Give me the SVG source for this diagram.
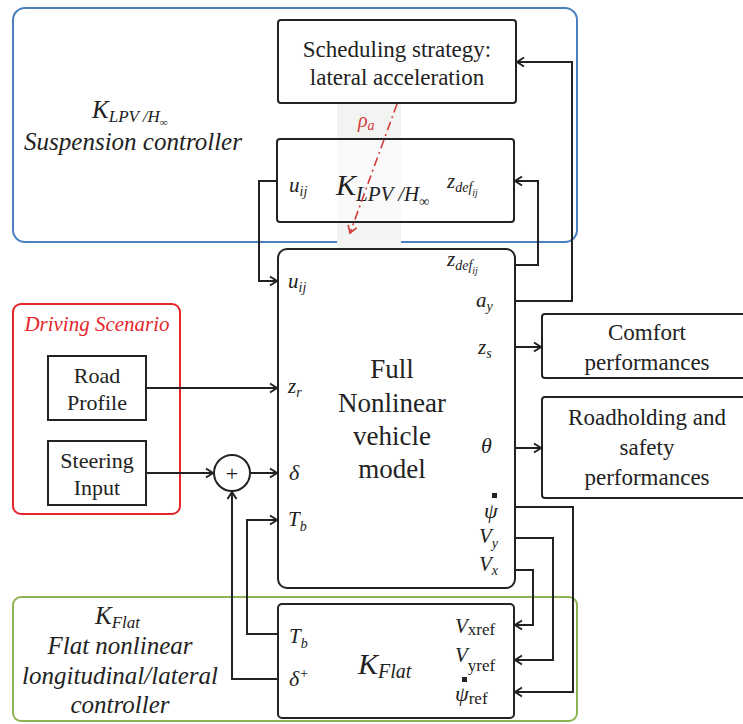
<svg xmlns="http://www.w3.org/2000/svg" width="743" height="724" viewBox="0 0 743 724">
<defs>
<marker id="arr" markerWidth="12" markerHeight="12" refX="10" refY="6" orient="auto" markerUnits="userSpaceOnUse">
<path d="M3,1.5 L10,6 L3,10.5" fill="none" stroke="#222" stroke-width="2"/>
</marker>
<marker id="arrR" markerWidth="12" markerHeight="12" refX="10" refY="6" orient="auto" markerUnits="userSpaceOnUse">
<path d="M3,1.5 L10,6 L3,10.5" fill="none" stroke="#d43a3a" stroke-width="1.6"/>
</marker>
</defs>
<style>
.box{fill:#fff;stroke:#222;stroke-width:2}
.wire{fill:none;stroke:#222;stroke-width:2}
.t{font-family:'Liberation Serif','Times New Roman',Times,Tinos,'Noto Serif','DejaVu Serif',FreeSerif,serif;fill:#222;text-anchor:middle}
.m{font-family:'Liberation Serif','Times New Roman',Times,Tinos,'Noto Serif','DejaVu Serif',FreeSerif,serif;font-style:italic;fill:#222}
.grp{fill:none;stroke-width:2}
</style>
<rect width="743" height="724" fill="#fff"/>

<g id="suspension-group">
<rect x="13" y="8" width="564" height="234" rx="12" class="grp" stroke="#4a7fc1"/>
<text class="m" x="92" y="118" font-size="25">K<tspan font-size="17" dy="4">LPV /H</tspan><tspan font-size="11" dy="4">∞</tspan></text>
<text class="m" x="133" y="150" font-size="25" text-anchor="middle">Suspension controller</text>
</g>

<g id="flat-group">
<rect x="13" y="597" width="564" height="124" rx="8" class="grp" stroke="#8db352"/>
<text class="m" x="95" y="624" font-size="25">K<tspan font-size="17" dy="4">Flat</tspan></text>
<text class="m" x="120" y="654" font-size="25" text-anchor="middle">Flat nonlinear</text>
<text class="m" x="120" y="684" font-size="25" text-anchor="middle">longitudinal/lateral</text>
<text class="m" x="120" y="713" font-size="25" text-anchor="middle">controller</text>
</g>

<g id="scenario-group">
<rect x="13" y="304" width="167" height="210" rx="8" class="grp" stroke="#e8242b"/>
<text class="m" x="97" y="331" font-size="21" text-anchor="middle" style="fill:#e8242b">Driving Scenario</text>
</g>

<rect x="337" y="103" width="64" height="148" fill="#f2f4f2"/>

<g id="scheduling">
<rect x="278" y="20" width="238" height="83" rx="3" class="box"/>
<text class="t" x="397" y="57" font-size="23">Scheduling strategy:</text>
<text class="t" x="397" y="85" font-size="23">lateral acceleration</text>
</g>

<g id="klpv">
<rect x="277" y="139" width="237" height="83" rx="3" class="box" fill-opacity="0.5"/>
<text class="m" x="289" y="192" font-size="21">u<tspan font-size="14" dy="4">ij</tspan></text>
<text class="m" x="336" y="195" font-size="30">K<tspan font-size="21" dy="6">LPV /H</tspan><tspan font-size="14" dy="5">∞</tspan></text>
<text class="m" x="447" y="188" font-size="21">z<tspan font-size="14" dy="4">def</tspan><tspan font-size="10" dy="4">ij</tspan></text>
</g>

<g id="vehicle-model">
<rect x="278" y="249" width="237" height="339" rx="9" class="box"/>
<text class="t" x="392" y="378" font-size="27">Full</text>
<text class="t" x="392" y="412" font-size="27">Nonlinear</text>
<text class="t" x="392" y="445" font-size="27">vehicle</text>
<text class="t" x="392" y="478" font-size="27">model</text>
<text class="m" x="288" y="288" font-size="21">u<tspan font-size="14" dy="4">ij</tspan></text>
<text class="m" x="288" y="393" font-size="21">z<tspan font-size="14" dy="4">r</tspan></text>
<text class="m" x="289" y="480" font-size="22">δ</text>
<text class="m" x="288" y="526" font-size="21">T<tspan font-size="14" dy="5">b</tspan></text>
<text class="m" x="447" y="266" font-size="21">z<tspan font-size="14" dy="4">def</tspan><tspan font-size="10" dy="4">ij</tspan></text>
<text class="m" x="476" y="307" font-size="21">a<tspan font-size="14" dy="4">y</tspan></text>
<text class="m" x="478" y="354" font-size="21">z<tspan font-size="14" dy="4">s</tspan></text>
<text class="m" x="481" y="453" font-size="22">θ</text>
<rect x="492" y="493" width="5" height="5" fill="#222"/>
<text class="m" x="484" y="518" font-size="22">ψ</text>
<text class="m" x="479" y="543" font-size="21">V<tspan font-size="14" dy="5">y</tspan></text>
<text class="m" x="479" y="571" font-size="21">V<tspan font-size="14" dy="4">x</tspan></text>
</g>

<g id="comfort">
<rect x="542" y="314" width="215" height="64" rx="3" class="box"/>
<text class="t" x="647" y="340" font-size="23">Comfort</text>
<text class="t" x="647" y="370" font-size="23">performances</text>
</g>

<g id="roadholding">
<rect x="542" y="397" width="215" height="101" rx="3" class="box"/>
<text class="t" x="647" y="425" font-size="23">Roadholding and</text>
<text class="t" x="647" y="455" font-size="23">safety</text>
<text class="t" x="647" y="485" font-size="23">performances</text>
</g>

<g id="road-profile">
<rect x="48" y="356" width="98" height="64" class="box"/>
<text class="t" x="97" y="383" font-size="22">Road</text>
<text class="t" x="97" y="410" font-size="22">Profile</text>
</g>

<g id="steering-input">
<rect x="48" y="441" width="98" height="64" class="box"/>
<text class="t" x="97" y="468" font-size="22">Steering</text>
<text class="t" x="97" y="495" font-size="22">Input</text>
</g>

<g id="sum">
<circle cx="232" cy="473" r="18" class="box"/>
<text class="t" x="232" y="481" font-size="22">+</text>
</g>

<g id="kflat">
<rect x="278" y="604" width="236" height="114" rx="4" class="box"/>
<text class="m" x="289" y="643" font-size="21">T<tspan font-size="14" dy="5">b</tspan></text>
<text class="m" x="289" y="686" font-size="22">δ<tspan font-size="14" dy="-8">+</tspan></text>
<text class="m" x="358" y="674" font-size="30">K<tspan font-size="20" dy="4">Flat</tspan></text>
<text class="m" x="455" y="633" font-size="21">V<tspan class="t" font-size="17" font-style="normal" dy="2">xref</tspan></text>
<text class="m" x="455" y="662" font-size="21">V<tspan class="t" font-size="17" font-style="normal" dy="9">yref</tspan></text>
<rect x="462" y="677" width="5" height="5" fill="#222"/>
<text class="m" x="455" y="701" font-size="22">ψ<tspan class="t" font-size="17" font-style="normal" dy="3">ref</tspan></text>
</g>

<g id="connectors">
<path class="wire" d="M277,181 H259 V281 H277" marker-end="url(#arr)"/>
<path class="wire" d="M515,265 H538 V181 H515" marker-end="url(#arr)"/>
<path class="wire" d="M515,301 H572 V62 H517" marker-end="url(#arr)"/>
<path class="wire" d="M515,347 H541" marker-end="url(#arr)"/>
<path class="wire" d="M515,448 H541" marker-end="url(#arr)"/>
<path class="wire" d="M515,507 H573 V692 H515" marker-end="url(#arr)"/>
<path class="wire" d="M515,538 H553 V660 H515" marker-end="url(#arr)"/>
<path class="wire" d="M515,570 H533 V625 H515" marker-end="url(#arr)"/>
<path class="wire" d="M146,388 H277" marker-end="url(#arr)"/>
<path class="wire" d="M146,473 H213" marker-end="url(#arr)"/>
<path class="wire" d="M250,473 H277" marker-end="url(#arr)"/>
<path class="wire" d="M278,634 H247 V520 H277" marker-end="url(#arr)"/>
<path class="wire" d="M278,679 H232 V492" marker-end="url(#arr)"/>
<path d="M397,104 L350,233" fill="none" stroke="#d43a3a" stroke-width="1.6" stroke-dasharray="9,4,2,4" marker-end="url(#arrR)"/>
<text class="m" x="358" y="127" font-size="20" style="fill:#d43a3a">ρ<tspan font-size="14" dy="3">a</tspan></text>
</g>
</svg>
